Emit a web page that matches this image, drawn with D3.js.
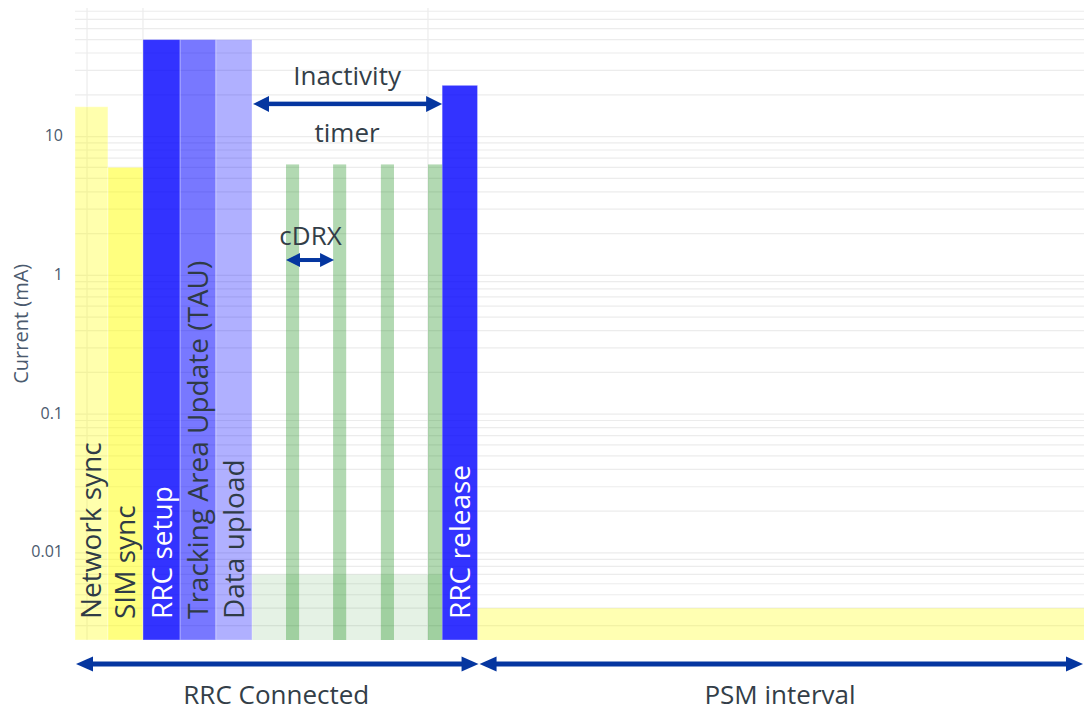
<!DOCTYPE html>
<html>
<head>
<meta charset="utf-8">
<script src="https://cdn.jsdelivr.net/npm/d3@7"></script>
<style>
  html, body { margin: 0; padding: 0; background: #fff; }
  svg { display: block; }
  text { font-family: "Open Sans", "Noto Sans", sans-serif; }
</style>
</head>
<body>
<svg id="chart" width="1084" height="711"></svg>
<script>
// ---------- data ----------
const phaseNames    = ["Network sync", "SIM sync", "RRC setup", "Tracking Area Update (TAU)", "Data upload", "RRC release"];
const phaseStart    = [0, 0.93, 1.92, 2.97, 3.98, 10.37];
const phaseEnd      = [0.93, 1.92, 2.97, 3.98, 5.0, 11.37];
const phaseCurrent  = [16.4, 6.0, 50, 50, 50, 23.4];

const cdrxStart     = [5.96, 7.29, 8.64, 9.97];
const cdrxEnd       = [6.33, 7.66, 9.01, 10.37];
const cdrxCurrent   = [6.3, 6.3, 6.3, 6.3];

const idleStart = [5.0];
const idleEnd = [10.37];
const idleCurrent = [0.007];

const psmStart = [11.37];
const psmEnd = [28.5];
const psmCurrent = [0.004];

const yTickValues = [10, 1, 0.1, 0.01];
const yTickLabels = ["10", "1", "0.1", "0.01"];
const xGridValues = [0.34, 1.92, 9.97];

// ---------- styles ----------
const phaseFill = ["rgba(255,255,0,0.32)", "rgba(255,255,0,0.5)", "rgba(0,0,255,0.8)",
                   "rgba(0,0,255,0.53)", "rgba(0,0,255,0.31)", "rgba(0,0,255,0.8)"];
const phaseText = ["#2f3b46", "#2f3b46", "#ffffff", "#2f3b46", "#2f3b46", "#ffffff"];
const arrowColor = "#0536a0";
const textColor = "#333e48";

// ---------- layout ----------
const svg = d3.select("#chart");
const plot = { left: 75, right: 1084, top: 8, bottom: 640 };

const x = d3.scaleLinear().domain([0, 28.5]).range([plot.left, plot.right]);
const y = d3.scaleLog().domain([0.00236, 84.4]).range([plot.bottom, plot.top]);

// gridlines
const gridG = svg.append("g");
gridG.selectAll("line.h").data(y.ticks()).join("line")
  .attr("x1", plot.left).attr("x2", plot.right)
  .attr("y1", d => y(d)).attr("y2", d => y(d))
  .attr("stroke", "#ececec").attr("stroke-width", 1.2);
gridG.selectAll("line.v").data(xGridValues).join("line")
  .attr("x1", d => x(d)).attr("x2", d => x(d))
  .attr("y1", plot.top).attr("y2", plot.bottom)
  .attr("stroke", "#ececec").attr("stroke-width", 1.2);

// y axis
const yAxis = d3.axisLeft(y).tickValues(yTickValues)
  .tickFormat((d, i) => yTickLabels[i]).tickSize(0).tickPadding(12);
const yAxisG = svg.append("g").attr("transform", `translate(${plot.left},0)`).call(yAxis);
yAxisG.select(".domain").remove();
yAxisG.selectAll("text").attr("fill", "#4b5a6e").style("font-size", "16px")
  .style("font-family", "'Open Sans', sans-serif").attr("dy", "0.25em");

svg.append("text")
  .attr("transform", `translate(28,${(y(1) + y(0.1)) / 2 - 21}) rotate(-90)`)
  .attr("text-anchor", "middle")
  .attr("fill", "#4b5a6e").style("font-size", "20px")
  .text("Current (mA)");

// bars
const bars = svg.append("g");
function drawBars(starts, ends, vals, fill, stroke) {
  bars.selectAll(null).data(starts).enter().append("rect")
    .attr("x", (d, i) => x(d))
    .attr("width", (d, i) => x(ends[i]) - x(d))
    .attr("y", (d, i) => y(vals[i]))
    .attr("height", (d, i) => plot.bottom - y(vals[i]))
    .attr("fill", (d, i) => typeof fill === "function" ? fill(i) : fill)
    .attr("stroke", stroke).attr("stroke-width", 1);
}
drawBars(idleStart, idleEnd, idleCurrent, "rgba(0,128,0,0.1)", "none");
drawBars(psmStart, psmEnd, psmCurrent, "rgba(255,255,0,0.3)", "none");
drawBars(phaseStart, phaseEnd, phaseCurrent, i => phaseFill[i], "rgba(255,255,255,0.35)");
drawBars(cdrxStart, cdrxEnd, cdrxCurrent, "rgba(0,128,0,0.3)", "none");

// vertical labels in bars
svg.append("g").selectAll("text").data(phaseNames).join("text")
  .attr("transform", (d, i) => `translate(${(x(phaseStart[i]) + x(phaseEnd[i])) / 2 + 10},${plot.bottom - 21}) rotate(-90)`)
  .attr("text-anchor", "start")
  .attr("fill", (d, i) => phaseText[i])
  .style("font-size", "28px")
  .text(d => d);

// arrows
function arrow(x1, x2, yy, w, hl, hw, leftHead = true, rightHead = true) {
  const g = svg.append("g").attr("fill", arrowColor);
  const a = leftHead ? x1 + hl - 1 : x1;
  const b = rightHead ? x2 - hl + 1 : x2;
  g.append("rect").attr("x", a).attr("y", yy - w / 2).attr("width", b - a).attr("height", w);
  if (leftHead) g.append("path").attr("d", `M${x1},${yy}L${x1 + hl},${yy - hw / 2}L${x1 + hl},${yy + hw / 2}Z`);
  if (rightHead) g.append("path").attr("d", `M${x2},${yy}L${x2 - hl},${yy - hw / 2}L${x2 - hl},${yy + hw / 2}Z`);
}
// inactivity timer
arrow(x(idleStart[0]) + 1, x(idleEnd[0]), y(17.2), 4.5, 16, 16);
// cDRX
arrow(x(cdrxStart[0]), x(cdrxStart[1]) + 1, y(1.29), 4, 14, 14);
// RRC connected / PSM interval
const bottomY = plot.bottom + 24;
arrow(x(phaseStart[0]) + 1, x(psmStart[0]) + 1, bottomY, 5, 17, 15);
arrow(x(psmStart[0]) + 2, x(psmEnd[0]) - 1, bottomY, 5, 17, 15);

// annotation text
const ann = svg.append("g").attr("fill", textColor).attr("text-anchor", "middle").style("font-size", "26px");
const midIdle = (x(idleStart[0]) + x(idleEnd[0])) / 2;
ann.append("text").attr("x", midIdle).attr("y", 85).text("Inactivity");
ann.append("text").attr("x", midIdle).attr("y", 142).text("timer");
ann.append("text").attr("x", (x(cdrxStart[0]) + x(cdrxStart[1])) / 2 + 1).attr("y", 245).text("cDRX");
ann.append("text").attr("x", (x(phaseStart[0]) + x(psmStart[0])) / 2).attr("y", 704).text("RRC Connected");
ann.append("text").attr("x", 780).attr("y", 704).text("PSM interval");
</script>
</body>
</html>
